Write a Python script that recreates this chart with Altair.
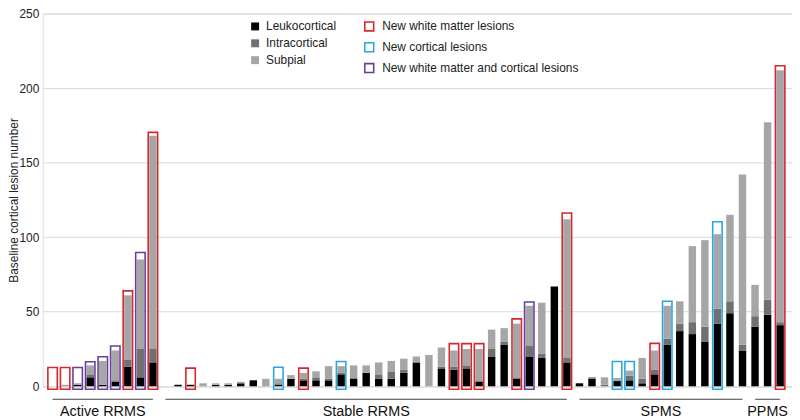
import altair as alt
import pandas as pd

groups = ["Active RRMS"] * 9 + ["Stable RRMS"] * 33 + ["SPMS"] * 14 + ["PPMS"] * 3

leukocortical = [
    0, 0, 1, 6, 1, 3, 13, 6, 16,
    0, 1, 1, 0, 1, 1, 2, 4, 0, 1, 5, 4, 4, 4, 8, 5, 9, 5, 5, 9, 16, 0, 12, 11, 12, 3, 20, 28, 5, 20, 19, 67, 16,
    2, 5, 0, 3.5, 4, 2, 8, 28, 37, 35, 30, 42, 49, 24,
    40, 48, 41,
]
intracortical = [
    0, 0, 0, 2, 0, 1, 5, 19, 9,
    0, 0, 0, 0, 0, 0, 0, 0, 0, 1, 0, 1, 2, 1, 1, 1, 0, 3, 5, 2, 0, 0, 1, 2, 2, 1, 5, 2, 1, 7, 3, 0, 3,
    0, 1, 1, 0, 3, 3, 3, 4, 5, 8, 10, 10, 8, 4,
    7, 10, 2,
]
subpial = [
    0, 1, 1, 6, 16, 20, 43, 60, 143,
    0, 0, 0, 2, 1, 1, 1, 0, 5, 3, 2.5, 4, 4, 8.5, 4.5, 8, 5, 8, 7, 7.5, 4, 21, 13, 11, 11, 21, 13, 9, 36, 27, 34, 0, 93,
    0, 0, 5, 2, 3.5, 14, 13, 22, 15, 51, 58, 50, 58, 114,
    21, 119, 169,
]

lesion_types = ["Leukocortical", "Intracortical", "Subpial"]
lesion_colors = ["#000000", "#707070", "#a6a6a6"]

WM = "New white matter lesions"
CTX = "New cortical lesions"
BOTH = "New white matter and cortical lesions"
new_kinds = [WM, CTX, BOTH]
new_colors = ["#d9262c", "#2aa7dc", "#6a3f98"]

boxed_patient = [0, 1, 2, 3, 4, 5, 6, 7, 8,
                 11, 18, 20, 23, 32, 33, 34, 37, 38, 41,
                 45, 46, 48, 49, 53, 58]
boxed_kind = [WM, WM, BOTH, BOTH, BOTH, BOTH, WM, BOTH, WM,
              WM, CTX, WM, CTX, WM, WM, WM, WM, BOTH, WM,
              CTX, CTX, WM, CTX, CTX, WM]
boxed_top = [12.6, 12.6, 12.6, 16.5, 19.8, 27, 64, 89.7, 170.3,
             12.2, 12.8, 12.2, 16.6, 28.6, 28.6, 28.6, 45.2, 56.5, 116.2,
             16.6, 16.6, 28.8, 57, 110.3, 215]

y_ticks = [0, 50, 100, 150, 200, 250]

n = len(groups)
rows = []
for i in range(n):
    for k, vals in enumerate([leukocortical, intracortical, subpial]):
        rows.append({"idx": i, "type": lesion_types[k], "ord": k, "value": vals[i]})
bars_df = pd.DataFrame(rows)
boxes_df = pd.DataFrame({"idx": boxed_patient, "kind": boxed_kind, "top": boxed_top})
grp_df = pd.DataFrame({"idx": list(range(n)), "group": groups})

FONT = "Liberation Sans"
PW, PH = 755, 375.6
xscale = alt.Scale(domain=[-0.39, 58.55], nice=False, zero=False)
yscale = alt.Scale(domain=[0, 250], nice=False)

bars = alt.Chart(bars_df).mark_bar(size=7.5).encode(
    x=alt.X("idx:Q", scale=xscale, axis=None),
    y=alt.Y("value:Q", stack="zero", scale=yscale,
            axis=alt.Axis(values=y_ticks, grid=True, gridColor="#d9d9d9", gridWidth=1,
                          domain=False, ticks=False, labelPadding=4, labelFontSize=12,
                          labelFont=FONT, labelColor="#222",
                          title="Baseline cortical lesion number", titleFont=FONT,
                          titleFontSize=12, titleFontWeight="normal", titleColor="#222",
                          titleAngle=-90, titleX=-25.5, titleY=PH / 2,
                          titleAlign="center", titleBaseline="alphabetic")),
    color=alt.Color("type:N", scale=alt.Scale(domain=lesion_types, range=lesion_colors),
                    legend=alt.Legend(title=None, orient="none", legendX=208, legendY=7,
                                      symbolType="square", symbolSize=64, symbolStrokeWidth=0,
                                      labelFont=FONT, labelFontSize=12, labelColor="#222",
                                      labelOffset=5, rowPadding=5, padding=0)),
    order=alt.Order("ord:Q", sort="ascending"),
)

boxes = alt.Chart(boxes_df).mark_bar(size=9.5, fill="transparent", strokeWidth=1.6, y2Offset=3).encode(
    x=alt.X("idx:Q", scale=xscale),
    y=alt.Y("top:Q", scale=yscale),
    y2=alt.datum(0),
    stroke=alt.Stroke("kind:N", scale=alt.Scale(domain=new_kinds, range=new_colors),
                      legend=alt.Legend(title=None, orient="none", legendX=323, legendY=7,
                                        symbolType="square", symbolSize=81, symbolStrokeWidth=1.6,
                                        symbolFillColor="white",
                                        labelFont=FONT, labelFontSize=12, labelColor="#222",
                                        labelLimit=400,
                                        labelOffset=7, rowPadding=5, padding=0)),
)

grp_base = alt.Chart(grp_df).transform_aggregate(
    start="min(idx)", end="max(idx)", groupby=["group"]
).transform_calculate(mid="(datum.start + datum.end) / 2")

group_lines = grp_base.mark_rule(color="#444", strokeWidth=1).encode(
    x=alt.X("start:Q", scale=xscale), x2="end:Q", y=alt.value(388.7)
)
group_text = grp_base.mark_text(font=FONT, fontSize=14.5, color="#111", baseline="alphabetic").encode(
    x=alt.X("mid:Q", scale=xscale), y=alt.value(406), text="group:N"
)

chart = alt.layer(bars, boxes, group_lines, group_text).properties(
    width=PW, height=PH,
    autosize=alt.AutoSizeParams(type="none"),
    padding={"left": 35, "top": 4, "right": 0, "bottom": 31},
).configure_view(stroke=None).configure(background="white")

chart.save("out.html", embed_options={"renderer": "svg", "actions": False})
